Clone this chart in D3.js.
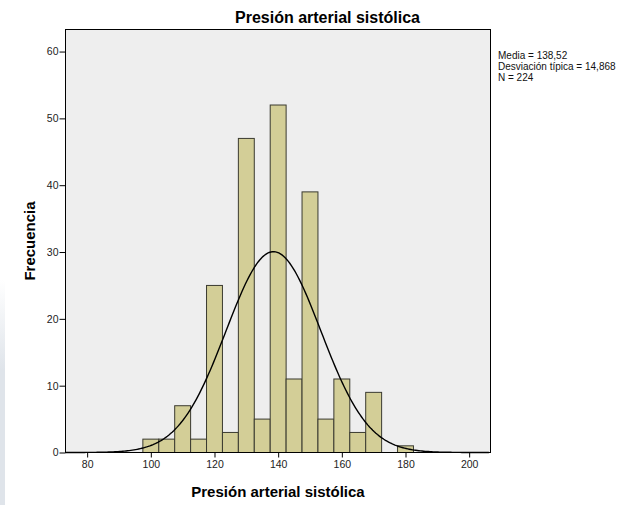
<!DOCTYPE html>
<html>
<head>
<meta charset="utf-8">
<script src="https://cdn.jsdelivr.net/npm/d3@7"></script>
<style>
  body { margin: 0; background: #fff; }
  text { font-family: "Liberation Sans", Arial, sans-serif; }
</style>
</head>
<body>
<div id="chart"></div>
<script>
// histogram bins (center of 5-unit bins) and counts
var binCenters = [100, 105, 110, 115, 120, 125, 130, 135, 140, 145, 150, 155, 160, 165, 170, 175, 180];
var counts     = [2,   2,   7,   2,   25,  3,   47,  5,   52,  11,  39,  5,   11,  3,   9,   0,   1];
var binWidth = 5;

var xTicks = [80, 100, 120, 140, 160, 180, 200];
var yTicks = [0, 10, 20, 30, 40, 50, 60];

var media = 138.52, desviacion = 14.868, n = 224;
var statsLines = ['Media = 138,52', 'Desviación típica = 14,868', 'N = 224'];

var title = 'Presión arterial sistólica';
var xLabel = 'Presión arterial sistólica';
var yLabel = 'Frecuencia';

var W = 644, H = 505;
var plot = { left: 65.5, right: 490.5, top: 29.5, bottom: 452.5 };

var svg = d3.select('#chart').append('svg')
  .attr('width', W)
  .attr('height', H);

// faint strip on the left edge seen in the screenshot
var defs = svg.append('defs');
var grad = defs.append('linearGradient')
  .attr('id', 'edge')
  .attr('x1', 0).attr('y1', 0).attr('x2', 0).attr('y2', 1);
grad.append('stop').attr('offset', '0%').attr('stop-color', '#dfe4ea').attr('stop-opacity', 0);
grad.append('stop').attr('offset', '40%').attr('stop-color', '#dfe4ea').attr('stop-opacity', 1);
grad.append('stop').attr('offset', '100%').attr('stop-color', '#dfe4ea').attr('stop-opacity', 1);
svg.append('rect')
  .attr('x', 0).attr('y', 280).attr('width', 5).attr('height', H - 280)
  .attr('fill', 'url(#edge)');

var x = d3.scaleLinear()
  .domain([73.2, 206.7])
  .range([plot.left, plot.right]);

var y = d3.scaleLinear()
  .domain([0, 63.3])
  .range([plot.bottom, plot.top]);

// plot background
svg.append('rect')
  .attr('x', plot.left)
  .attr('y', plot.top)
  .attr('width', plot.right - plot.left)
  .attr('height', plot.bottom - plot.top)
  .attr('fill', '#eeeeee');

// bars
svg.append('g').selectAll('rect')
  .data(binCenters.map(function(c, i) { return { c: c, v: counts[i] }; })
    .filter(function(d) { return d.v > 0; }))
  .enter().append('rect')
  .attr('x', function(d) { return x(d.c - binWidth / 2); })
  .attr('y', function(d) { return y(d.v); })
  .attr('width', function(d) { return x(d.c + binWidth / 2) - x(d.c - binWidth / 2); })
  .attr('height', function(d) { return y(0) - y(d.v); })
  .attr('fill', '#d3ce97')
  .attr('stroke', '#3a3a30')
  .attr('stroke-width', 1);

// normal curve from the stated mean / sd / N
var curvePts = d3.range(x.domain()[0], x.domain()[1], 0.5).map(function(v) {
  var z = (v - media) / desviacion;
  return [v, n * binWidth * Math.exp(-0.5 * z * z) / (desviacion * Math.sqrt(2 * Math.PI))];
});

svg.append('path')
  .datum(curvePts)
  .attr('fill', 'none')
  .attr('stroke', '#000')
  .attr('stroke-width', 1.4)
  .attr('d', d3.line()
    .x(function(d) { return x(d[0]); })
    .y(function(d) { return y(d[1]); }));

// plot frame
svg.append('rect')
  .attr('x', plot.left)
  .attr('y', plot.top)
  .attr('width', plot.right - plot.left)
  .attr('height', plot.bottom - plot.top)
  .attr('fill', 'none')
  .attr('stroke', '#000')
  .attr('stroke-width', 1);

// axes
var xAxis = svg.append('g')
  .attr('transform', 'translate(0,' + plot.bottom + ')')
  .call(d3.axisBottom(x).tickValues(xTicks).tickSize(5).tickPadding(3).tickSizeOuter(0));
var yAxis = svg.append('g')
  .attr('transform', 'translate(' + plot.left + ',0)')
  .call(d3.axisLeft(y).tickValues(yTicks).tickSize(6).tickPadding(1).tickSizeOuter(0));

[xAxis, yAxis].forEach(function(g) {
  g.select('.domain').remove();
  g.selectAll('line').attr('stroke', '#000');
  g.selectAll('text')
    .attr('fill', '#222')
    .style('font-family', '"Liberation Sans", Arial, sans-serif')
    .style('font-size', '10.5px');
});

// titles
svg.append('text')
  .attr('x', 327.5)
  .attr('y', 23)
  .attr('text-anchor', 'middle')
  .style('font-size', '16px')
  .style('font-weight', 'bold')
  .text(title);

svg.append('text')
  .attr('x', (plot.left + plot.right) / 2)
  .attr('y', 497)
  .attr('text-anchor', 'middle')
  .style('font-size', '15px')
  .style('font-weight', 'bold')
  .text(xLabel);

svg.append('text')
  .attr('transform', 'translate(35,' + (plot.top + plot.bottom) / 2 + ') rotate(-90)')
  .attr('text-anchor', 'middle')
  .style('font-size', '15px')
  .style('font-weight', 'bold')
  .text(yLabel);

// stats box
svg.append('g').selectAll('text')
  .data(statsLines)
  .enter().append('text')
  .attr('x', 498)
  .attr('y', function(d, i) { return 59 + i * 11; })
  .attr('fill', '#111')
  .style('font-size', '10px')
  .text(function(d) { return d; });
</script>
</body>
</html>
